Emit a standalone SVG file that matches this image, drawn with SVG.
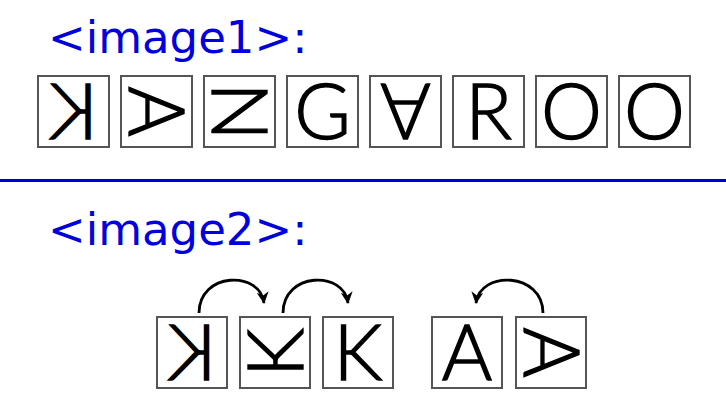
<svg xmlns="http://www.w3.org/2000/svg" width="726" height="412" viewBox="0 0 726 412">
<style>
.hdr{font-family:"DejaVu Sans",sans-serif;font-size:45px;fill:#0000dc}
.box{fill:#fff;stroke:#555;stroke-width:2}
.ltr{font-family:Lato,"Open Sans",sans-serif;font-size:77px;font-weight:300;fill:#000;stroke:#000;stroke-width:1.4;text-anchor:middle}
.arc{fill:none;stroke:#000;stroke-width:2.8}
</style>
<defs>
<marker id="ah" markerUnits="userSpaceOnUse" markerWidth="16" markerHeight="14" refX="11" refY="6" orient="auto">
<path d="M0,0 L12,6 L0,12 L3.5,6 z" fill="#000"/>
</marker>
</defs>
<rect width="726" height="412" fill="#fff"/>
<text id="label1" class="hdr" x="48" y="53">&lt;image1&gt;:</text>
<line id="divider" x1="0" y1="180.5" x2="726" y2="180.5" stroke="#0000cc" stroke-width="3"/>
<text id="label2" class="hdr" x="48" y="245">&lt;image2&gt;:</text>

<g id="row1">
<g id="t1"><rect class="box" x="38" y="76" width="71" height="71"/><text class="ltr" transform="translate(73.5,111.5) scale(-1,1)" y="27.5">K</text></g>
<g id="t2"><rect class="box" x="121" y="76" width="71" height="71"/><text class="ltr" transform="translate(156.5,111.5) rotate(90)" y="27.5">A</text></g>
<g id="t3"><rect class="box" x="204" y="76" width="71" height="71"/><text class="ltr" transform="translate(239.5,111.5) rotate(90)" y="27.5">N</text></g>
<g id="t4"><rect class="box" x="287" y="76" width="71" height="71"/><text class="ltr" transform="translate(322.5,111.5)" y="27.5">G</text></g>
<g id="t5"><rect class="box" x="370" y="76" width="71" height="71"/><text class="ltr" transform="translate(405.5,111.5) rotate(180)" y="27.5">A</text></g>
<g id="t6"><rect class="box" x="453" y="76" width="71" height="71"/><text class="ltr" transform="translate(488.5,111.5)" y="27.5">R</text></g>
<g id="t7"><rect class="box" x="536" y="76" width="71" height="71"/><text class="ltr" transform="translate(571.5,111.5)" y="27.5">O</text></g>
<g id="t8"><rect class="box" x="619" y="76" width="71" height="71"/><text class="ltr" transform="translate(654.5,111.5)" y="27.5">O</text></g>
</g>

<g id="row2">
<g id="b1"><rect class="box" x="157" y="317" width="70" height="71"/><text class="ltr" transform="translate(192,352.5) scale(-1,1)" y="27.5">K</text></g>
<g id="b2"><rect class="box" x="240" y="317" width="70" height="71"/><text class="ltr" transform="translate(275,352.5) rotate(-90)" y="27.5">K</text></g>
<g id="b3"><rect class="box" x="323" y="317" width="70" height="71"/><text class="ltr" transform="translate(358,352.5)" y="27.5">K</text></g>
<g id="b4"><rect class="box" x="432" y="317" width="70" height="71"/><text class="ltr" transform="translate(467,352.5)" y="27.5">A</text></g>
<g id="b5"><rect class="box" x="516" y="317" width="70" height="71"/><text class="ltr" transform="translate(551,352.5) rotate(90)" y="27.5">A</text></g>
</g>

<g id="connectors">
<path class="arc" d="M199,313 C199,272 260,270 264,303" marker-end="url(#ah)"/>
<path class="arc" d="M283,313 C283,272 344,270 348,303" marker-end="url(#ah)"/>
<path class="arc" d="M543,313 C543,272 480,270 476,303" marker-end="url(#ah)"/>
</g>
</svg>
